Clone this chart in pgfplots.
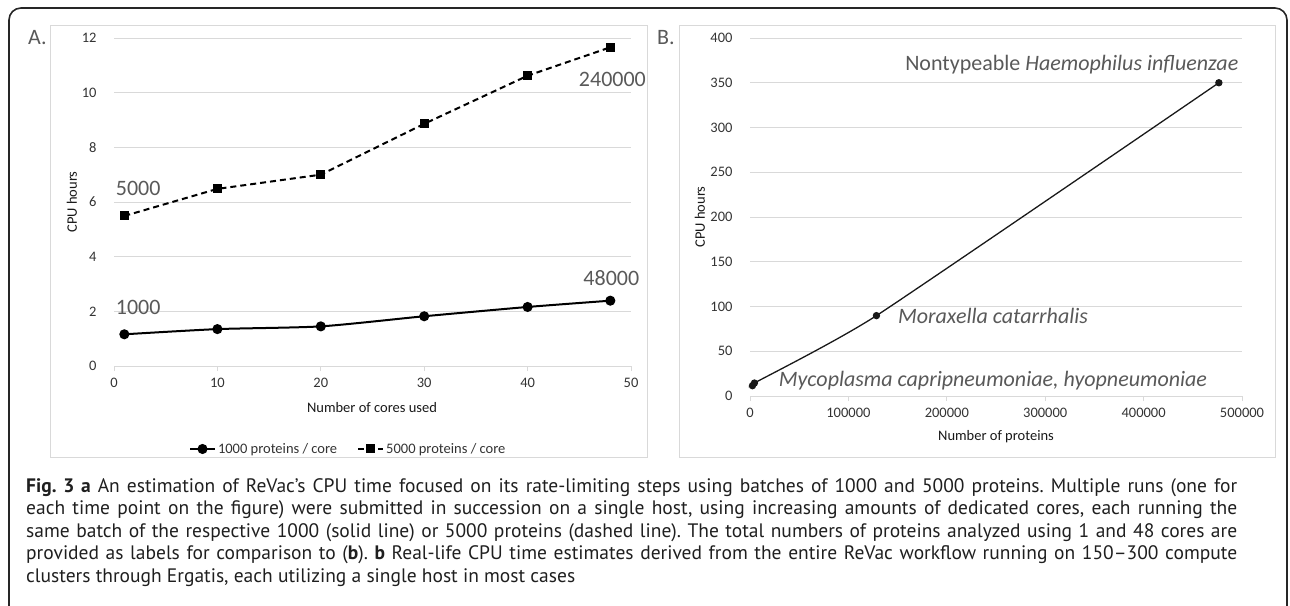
\documentclass[border=0pt]{standalone}
\usepackage{fontspec}
\setmainfont{Carlito}
\newfontfamily\capfont{PT Sans}
\usepackage{pgfplots}
\pgfplotsset{compat=1.18}
\definecolor{gridgray}{HTML}{D9D9D9}
\definecolor{labgray}{HTML}{595959}
\definecolor{tickgray}{HTML}{333333}
\newcommand\fs[2]{\fontsize{#1}{#2}\selectfont}
\pgfplotsset{
  excel/.style={
    scale only axis,
    axis lines*=left,
    x axis line style={gridgray, line width=1pt, -},
    y axis line style={draw=none},
    ytick style={draw=none},
    xtick style={gridgray, line width=1pt},
    tick align=outside,
    major tick length=5pt,
    ymajorgrids,
    grid style={gridgray, line width=1pt},
    tick label style={font=\fs{14.5}{17}, text=tickgray},
    /pgf/number format/assume math mode=true,
    /pgf/number format/fixed,
    /pgf/number format/1000 sep={},
    scaled ticks=false,
    yticklabel style={xshift=-9pt},
    xticklabel style={yshift=-4pt},
    clip=false,
  }
}
\tikzset{capline/.style={anchor=base west, inner sep=0pt, font=\capfont\fs{19.5}{22.5}, text=black!88}}
\begin{document}
\frenchspacing
\begin{tikzpicture}
\useasboundingbox (0,0) rectangle (1290pt,-605pt);
\begin{scope}
\clip (0,0) rectangle (1290pt,-605pt);
\draw[line width=1.6pt, rounded corners=12pt, black!85] (9pt,-8pt) rectangle (1287pt,-660pt);
\end{scope}
\draw[gridgray, line width=1pt] (50pt,-25pt) rectangle (647pt,-457pt);
\draw[gridgray, line width=1pt] (679pt,-25pt) rectangle (1275pt,-457pt);
\node[font=\fs{22}{26}, text=labgray, anchor=west, inner sep=0pt] at (28pt,-38pt) {A.};
\node[font=\fs{22}{26}, text=labgray, anchor=west, inner sep=0pt] at (657pt,-38pt) {B.};

% Panel A
\begin{axis}[excel,
  at={(114pt,-366pt)}, anchor=south west,
  width=517pt, height=328pt,
  xmin=0, xmax=50, ymin=0, ymax=12,
  xtick={0,10,...,50}, ytick={0,2,...,12},
  legend style={at={(axis description cs:0.453,-0.253)}, anchor=center,
    draw=none, fill=none, font=\fs{14.5}{17}, text=tickgray,
    /tikz/every even column/.append style={column sep=18pt}},
  legend columns=2,
  legend image code/.code={\draw[mark repeat=2,mark phase=2] plot coordinates {(0pt,0pt) (12.5pt,0pt) (25pt,0pt)};},
]
\addplot[black, line width=2pt, smooth, tension=0.4, mark=*, mark size=4pt, mark options={solid}]
  coordinates {(1,1.16) (10,1.35) (20,1.45) (30,1.82) (40,2.16) (48,2.39)};
\addlegendentry{1000 proteins / core}
\addplot[black, line width=2pt, dash pattern=on 6pt off 4pt, mark=square*, mark size=3.5pt, mark options={solid}]
  coordinates {(1,5.49) (10,6.48) (20,7.0) (30,8.86) (40,10.62) (48,11.66)};
\addlegendentry{5000 proteins / core}
\node[anchor=west, inner sep=0pt, font=\fs{22}{26}, text=labgray] at (axis cs:0.16,6.48) {5000};
\node[anchor=west, inner sep=0pt, font=\fs{22}{26}, text=labgray] at (axis cs:0.16,2.13) {1000};
\node[anchor=center, inner sep=0pt, font=\fs{22}{26}, text=labgray] at (axis cs:48.1,3.2) {48000};
\node[anchor=center, inner sep=0pt, font=\fs{22}{26}, text=labgray] at (axis cs:48.2,10.5) {240000};
\end{axis}
\node[rotate=90, font=\fs{14.5}{17}, text=black!90] at (72pt,-202pt) {CPU hours};
\node[font=\fs{14.5}{17}, text=black!90] at (372pt,-408pt) {Number of cores used};

% Panel B
\begin{axis}[excel,
  at={(750pt,-396pt)}, anchor=south west,
  width=492pt, height=358pt,
  xmin=0, xmax=500000, ymin=0, ymax=400,
  xtick={0,100000,...,500000}, ytick={0,50,...,400},
]
\addplot[black!90, line width=1.3pt, smooth, tension=0.3, mark=*, mark size=3pt]
  coordinates {(2500,11.5) (4500,14.5) (128500,89.8) (476500,350)};
\node[anchor=east, inner sep=0pt, font=\fs{22}{26}, text=labgray] at (axis cs:496500,370.4) {Nontypeable \textit{Haemophilus influenzae}};
\node[anchor=west, inner sep=0pt, font=\fs{22}{26}, text=labgray] at (axis cs:150200,89.8) {\textit{Moraxella catarrhalis}};
\node[anchor=west, inner sep=0pt, font=\fs{22}{26}, text=labgray] at (axis cs:29100,17.2) {\textit{Mycoplasma capripneumoniae, hyopneumoniae}};
\end{axis}
\node[rotate=90, font=\fs{14.5}{17}, text=black!90] at (700pt,-217pt) {CPU hours};
\node[font=\fs{14.5}{17}, text=black!90] at (996pt,-437pt) {Number of proteins};

% Caption
\node[capline] at (26pt,-492pt) {\makebox[1211pt][s]{\textbf{Fig. 3 a} An estimation of ReVac’s CPU time focused on its rate-limiting steps using batches of 1000 and 5000 proteins. Multiple runs (one for}};
\node[capline] at (26pt,-514.5pt) {\makebox[1211pt][s]{each time point on the figure) were submitted in succession on a single host, using increasing amounts of dedicated cores, each running the}};
\node[capline] at (26pt,-537pt) {\makebox[1211pt][s]{same batch of the respective 1000 (solid line) or 5000 proteins (dashed line). The total numbers of proteins analyzed using 1 and 48 cores are}};
\node[capline] at (26pt,-559.5pt) {\makebox[1211pt][s]{provided as labels for comparison to (\textbf{b}). \textbf{b} Real-life CPU time estimates derived from the entire ReVac workflow running on 150–300 compute}};
\node[capline] at (26pt,-582pt) {clusters through Ergatis, each utilizing a single host in most cases};
\end{tikzpicture}
\end{document}
